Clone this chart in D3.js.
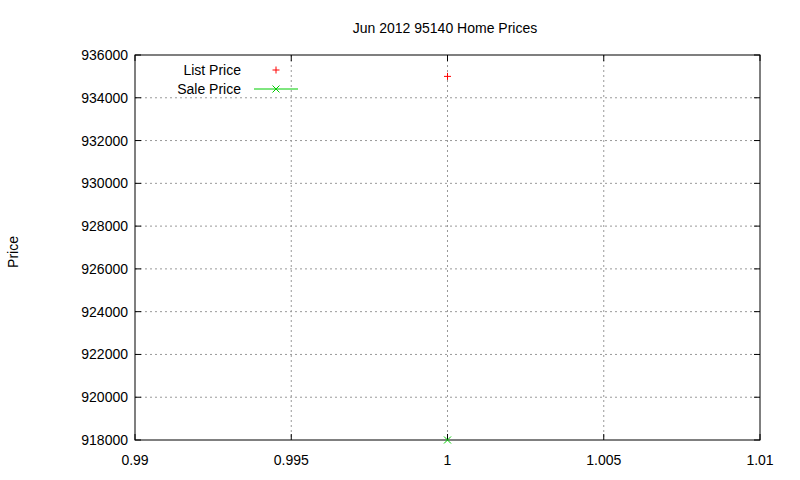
<!DOCTYPE html><html><head><script src="https://cdn.jsdelivr.net/npm/d3@7"></script>
<style>body{margin:0;background:#fff}text{font-family:"Liberation Sans",Arial,sans-serif;font-size:14px}</style></head><body>
<svg id="c" width="800" height="480"></svg>
<script>
const xTicks=[0.99,0.995,1,1.005,1.01];
const yTicks=[918000,920000,922000,924000,926000,928000,930000,932000,934000,936000];
const listX=[1], listPrice=[935000];
const saleX=[1], salePrice=[918000];
const svg=d3.select("#c");
const L=135,R=760,T=55,B=440;
const x=d3.scaleLinear().domain([0.99,1.01]).range([L,R]);
const y=d3.scaleLinear().domain([918000,936000]).range([B,T]);
const g=svg.append("g");
xTicks.forEach(t=>{
  if(t>0.99&&t<1.01) g.append("line").attr("x1",x(t)).attr("x2",x(t)).attr("y1",T).attr("y2",B).attr("stroke","#999").attr("stroke-dasharray","2,3");
  g.append("line").attr("x1",x(t)).attr("x2",x(t)).attr("y1",B).attr("y2",B-6).attr("stroke","#000");
  g.append("line").attr("x1",x(t)).attr("x2",x(t)).attr("y1",T).attr("y2",T+6).attr("stroke","#000");
  g.append("text").attr("x",x(t)).attr("y",B+25).attr("text-anchor","middle").text(String(t));
});
yTicks.forEach(t=>{
  if(t>918000&&t<936000) g.append("line").attr("x1",L).attr("x2",R).attr("y1",y(t)).attr("y2",y(t)).attr("stroke","#999").attr("stroke-dasharray","2,3");
  g.append("line").attr("x1",L).attr("x2",L+6).attr("y1",y(t)).attr("y2",y(t)).attr("stroke","#000");
  g.append("line").attr("x1",R).attr("x2",R-6).attr("y1",y(t)).attr("y2",y(t)).attr("stroke","#000");
  g.append("text").attr("x",L-7).attr("y",y(t)+5).attr("text-anchor","end").text(t);
});
g.append("rect").attr("x",L).attr("y",T).attr("width",R-L).attr("height",B-T).attr("fill","none").attr("stroke","#000");
svg.append("text").attr("x",445).attr("y",33).attr("text-anchor","middle").text("Jun 2012 95140 Home Prices");
svg.append("text").attr("transform","translate(18,252) rotate(-90)").attr("text-anchor","middle").text("Price");
function plus(cx,cy,c){g.append("path").attr("d",`M${cx-3.5},${cy}H${cx+3.5}M${cx},${cy-3.5}V${cy+3.5}`).attr("stroke",c);}
function cross(cx,cy,c){g.append("path").attr("d",`M${cx-3.5},${cy-3.5}L${cx+3.5},${cy+3.5}M${cx-3.5},${cy+3.5}L${cx+3.5},${cy-3.5}`).attr("stroke",c);}
listX.forEach((v,i)=>plus(x(v),y(listPrice[i]),"#f00"));
saleX.forEach((v,i)=>cross(x(v),y(salePrice[i]),"#0c0"));
svg.append("text").attr("x",241).attr("y",75).attr("text-anchor","end").text("List Price");
plus(276,70,"#f00");
svg.append("text").attr("x",241).attr("y",94).attr("text-anchor","end").text("Sale Price");
g.append("line").attr("x1",254).attr("x2",298).attr("y1",89).attr("y2",89).attr("stroke","#0c0");
cross(276,89,"#0c0");
</script></body></html>
